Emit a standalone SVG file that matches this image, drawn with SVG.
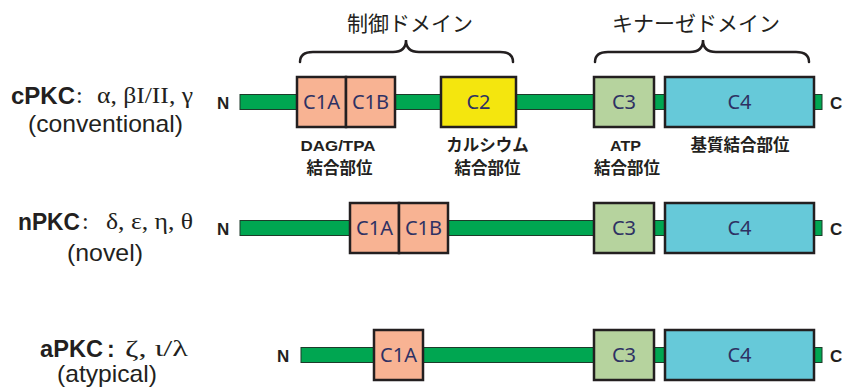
<svg xmlns="http://www.w3.org/2000/svg" width="842" height="392" viewBox="0 0 842 392">
<style>
.bar{fill:#00a651;stroke:#1d3b2a;stroke-width:1}
.box{stroke:#231f20;stroke-width:2.5}
.c1{fill:#f8b393}
.c2{fill:#f4e60e}
.c3{fill:#b6d39e}
.c4{fill:#66c9d9}
.bl{font-family:"Noto Sans","Open Sans",sans-serif;font-size:20px;fill:#2e3163;text-anchor:middle}
.term{font-family:"Liberation Sans",Arial,sans-serif;font-weight:bold;font-size:17px;fill:#231f20}
.hdr{font-family:"Noto Sans CJK JP",sans-serif;font-size:21px;fill:#231f20;text-anchor:middle}
.site{font-family:"Liberation Sans","Noto Sans CJK JP",sans-serif;font-weight:bold;font-size:15px;fill:#231f20;text-anchor:middle}
.sitej{font-family:"Noto Sans CJK JP",sans-serif;font-weight:bold;font-size:16.5px;fill:#231f20;text-anchor:middle}
.brace{fill:none;stroke:#231f20;stroke-width:2.5;stroke-linecap:round}
.name{font-family:"Liberation Sans",Arial,sans-serif;font-weight:bold;font-size:23px;fill:#231f20}
.greek{font-family:"Liberation Serif","Times New Roman",serif;font-size:24px;fill:#231f20}
.sub{font-family:"Liberation Sans",Arial,sans-serif;font-size:24px;fill:#231f20}
</style>

<g id="headers">
<text class="hdr" x="410" y="31">制御ドメイン</text>
<text class="hdr" x="696" y="31">キナーゼドメイン</text>
</g>

<g id="connectors">
<path class="brace" d="M300,62 Q300,52 313,52 L393,52 Q406,52 406,40 Q406,52 419,52 L500,52 Q513,52 513,62"/>
<path class="brace" d="M595,62 Q595,52 608,52 L690,52 Q703,52 703,40 Q703,52 716,52 L796,52 Q809,52 809,62"/>
</g>

<g id="cPKC">
<text class="name" x="11" y="104" textLength="64" lengthAdjust="spacingAndGlyphs">cPKC</text>
<text class="greek" x="76" y="103">:</text>
<text class="greek" x="97" y="103" textLength="96" lengthAdjust="spacingAndGlyphs">α, βI/II, γ</text>
<text class="sub" x="28" y="132" textLength="155" lengthAdjust="spacingAndGlyphs">(conventional)</text>
<text class="term" x="217" y="109">N</text>
<rect class="bar" x="240" y="94.5" width="582" height="15"/>
<text class="term" x="830" y="109">C</text>
<g id="cPKC-C1A"><rect class="box c1" x="297" y="77" width="49" height="50"/><text class="bl" x="321.5" y="109">C1A</text></g>
<g id="cPKC-C1B"><rect class="box c1" x="346" y="77" width="49" height="50"/><text class="bl" x="370.5" y="109">C1B</text></g>
<g id="cPKC-C2"><rect class="box c2" x="441" y="77" width="75" height="50"/><text class="bl" x="478.5" y="109">C2</text></g>
<g id="cPKC-C3"><rect class="box c3" x="594" y="77" width="60" height="50"/><text class="bl" x="624" y="109">C3</text></g>
<g id="cPKC-C4"><rect class="box c4" x="665" y="77" width="149" height="50"/><text class="bl" x="739.5" y="109">C4</text></g>
<text class="site" x="338" y="151" textLength="75" lengthAdjust="spacingAndGlyphs">DAG/TPA</text>
<text class="sitej" x="339.5" y="174">結合部位</text>
<text class="sitej" x="487.5" y="151">カルシウム</text>
<text class="sitej" x="487.5" y="174">結合部位</text>
<text class="site" x="625.5" y="151" textLength="31" lengthAdjust="spacingAndGlyphs">ATP</text>
<text class="sitej" x="627" y="174">結合部位</text>
<text class="sitej" x="740" y="151">基質結合部位</text>
</g>

<g id="nPKC">
<text class="name" x="18" y="230" textLength="62" lengthAdjust="spacingAndGlyphs">nPKC</text>
<text class="greek" x="82" y="229">:</text>
<text class="greek" x="106" y="229" textLength="87" lengthAdjust="spacingAndGlyphs">δ, ε, η, θ</text>
<text class="sub" x="67" y="261" textLength="76" lengthAdjust="spacingAndGlyphs">(novel)</text>
<text class="term" x="217" y="235">N</text>
<rect class="bar" x="240" y="220.5" width="582" height="15"/>
<text class="term" x="830" y="235">C</text>
<g id="nPKC-C1A"><rect class="box c1" x="350" y="203" width="49" height="50"/><text class="bl" x="374.5" y="235">C1A</text></g>
<g id="nPKC-C1B"><rect class="box c1" x="399" y="203" width="49" height="50"/><text class="bl" x="423.5" y="235">C1B</text></g>
<g id="nPKC-C3"><rect class="box c3" x="594" y="203" width="60" height="50"/><text class="bl" x="624" y="235">C3</text></g>
<g id="nPKC-C4"><rect class="box c4" x="665" y="203" width="149" height="50"/><text class="bl" x="739.5" y="235">C4</text></g>
</g>

<g id="aPKC">
<text class="name" x="40" y="357" textLength="63" lengthAdjust="spacingAndGlyphs">aPKC</text>
<text class="name" x="107" y="357">:</text>
<text class="greek" x="125" y="356" textLength="63" lengthAdjust="spacingAndGlyphs">ζ, ι/λ</text>
<text class="sub" x="57" y="382" textLength="100" lengthAdjust="spacingAndGlyphs">(atypical)</text>
<text class="term" x="277" y="362">N</text>
<rect class="bar" x="301" y="347.5" width="521" height="15"/>
<text class="term" x="830" y="362">C</text>
<g id="aPKC-C1A"><rect class="box c1" x="374" y="330" width="49" height="50"/><text class="bl" x="398.5" y="362">C1A</text></g>
<g id="aPKC-C3"><rect class="box c3" x="594" y="330" width="60" height="50"/><text class="bl" x="624" y="362">C3</text></g>
<g id="aPKC-C4"><rect class="box c4" x="665" y="330" width="149" height="50"/><text class="bl" x="739.5" y="362">C4</text></g>
</g>
</svg>
